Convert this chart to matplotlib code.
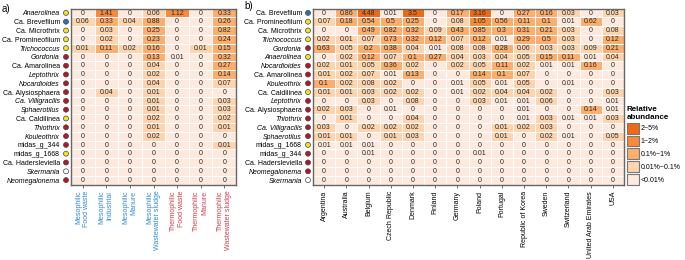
import numpy as np
import matplotlib
matplotlib.use("Agg")
import matplotlib.pyplot as plt
from matplotlib.colors import ListedColormap, BoundaryNorm
from matplotlib.patches import Patch

plt.rcParams['font.family'] = ['Liberation Sans', 'DejaVu Sans']

# DATA
# ----
rows_a = ["Anaerolinea", "Ca. Brevefilum", "Ca. Microthrix", "Ca. Promineofilum",
          "Trichococcus", "Gordonia", "Ca. Amarolinea", "Leptothrix", "Nocardioides",
          "Ca. Alysiosphaera", "Ca. Villigracilis", "Sphaerotilus", "Ca. Caldilinea",
          "Thiothrix", "Kouleothrix", "midas_g_344", "midas_g_1668",
          "Ca. Hadersleviella", "Skermania", "Neomegalonema"]
cols_a = ["Mesophilic\nFood waste", "Mesophilic\nIndustrial", "Mesophilic\nManure",
          "Mesophilic\nWastewater sludge", "Thermophilic\nFood waste",
          "Thermophilic\nManure", "Thermophilic\nWastewater sludge"]
vals_a = [
    [0, 1.41, 0, 0.06, 1.12, 0, 0.33],
    [0.06, 0.33, 0.04, 0.88, 0, 0, 0.26],
    [0, 0.03, 0, 0.25, 0, 0, 0.82],
    [0, 0.02, 0, 0.23, 0, 0, 0.24],
    [0.01, 0.11, 0.02, 0.16, 0, 0.01, 0.15],
    [0, 0, 0, 0.13, 0.008, 0, 0.32],
    [0, 0, 0, 0.04, 0, 0, 0.27],
    [0, 0, 0, 0.02, 0, 0, 0.14],
    [0, 0, 0, 0.04, 0, 0, 0.07],
    [0, 0.04, 0, 0.01, 0, 0, 0],
    [0, 0, 0, 0.01, 0, 0, 0.03],
    [0, 0, 0, 0.01, 0, 0, 0.03],
    [0, 0, 0, 0.02, 0, 0, 0.02],
    [0, 0, 0, 0.01, 0, 0, 0.01],
    [0, 0, 0, 0.02, 0, 0, 0],
    [0, 0, 0, 0, 0, 0, 0.01],
    [0, 0, 0, 0, 0, 0, 0],
    [0, 0, 0, 0, 0, 0, 0],
    [0, 0, 0, 0, 0, 0, 0],
    [0, 0, 0, 0, 0, 0, 0],
]

rows_b = ["Ca. Brevefilum", "Ca. Promineofilum", "Ca. Microthrix", "Trichococcus",
          "Gordonia", "Anaerolinea", "Nocardioides", "Ca. Amarolinea", "Kouleothrix",
          "Ca. Caldilinea", "Leptothrix", "Ca. Alysiosphaera", "Thiothrix",
          "Ca. Villigracilis", "Sphaerotilus", "midas_g_1668", "midas_g_344",
          "Ca. Hadersleviella", "Neomegalonema", "Skermania"]
cols_b = ["Argentina", "Australia", "Belgium", "Czech Republic", "Denmark", "Finland",
          "Germany", "Poland", "Portugal", "Republic of Korea", "Sweden", "Switzerland",
          "United Arab Emirates", "USA"]
vals_b = [
    [0, 0.86, 4.48, 0.008, 3.5, 0, 0.17, 3.16, 0, 0.27, 0.16, 0.03, 0, 0.03],
    [0.07, 0.18, 0.54, 0.5, 0.25, 0, 0.08, 1.05, 0.56, 0.11, 0.1, 0.008, 0.62, 0],
    [0, 0, 0.49, 0.82, 0.32, 0.09, 0.43, 0.85, 0.3, 0.31, 0.21, 0.03, 0, 0.08],
    [0.02, 0.01, 0.07, 0.73, 0.32, 0.12, 0.07, 0.12, 0.008, 0.29, 0.5, 0.03, 0, 0.12],
    [0.63, 0.05, 0.2, 0.38, 0.04, 0.008, 0.08, 0.08, 0.28, 0.06, 0.03, 0.03, 0.09, 0.21],
    [0, 0.02, 0.12, 0.07, 0.1, 0.27, 0.04, 0.03, 0.04, 0.05, 0.15, 0.11, 0.008, 0.04],
    [0.02, 0.01, 0.05, 0.36, 0.02, 0, 0.02, 0.05, 0.11, 0.02, 0.008, 0.008, 0.16, 0],
    [0.01, 0.02, 0.07, 0.008, 0.13, 0, 0, 0.14, 0.1, 0.07, 0, 0, 0, 0],
    [0.1, 0.02, 0.08, 0.02, 0, 0, 0.008, 0.05, 0.008, 0.05, 0, 0.008, 0, 0],
    [0.01, 0.01, 0.03, 0.02, 0.02, 0, 0.008, 0.02, 0.04, 0.04, 0.02, 0, 0, 0.03],
    [0, 0, 0.03, 0, 0.08, 0, 0, 0.03, 0.008, 0.008, 0.06, 0, 0, 0.008],
    [0.02, 0.03, 0, 0.008, 0, 0, 0, 0, 0, 0.008, 0, 0, 0.14, 0.008],
    [0, 0.01, 0, 0, 0.04, 0, 0, 0, 0, 0.008, 0.03, 0.008, 0.008, 0.03],
    [0.03, 0, 0.02, 0.02, 0.02, 0, 0, 0, 0.01, 0.02, 0.03, 0, 0, 0],
    [0.01, 0.01, 0, 0.01, 0.03, 0, 0, 0, 0.01, 0, 0.02, 0.008, 0, 0.05],
    [0.008, 0.008, 0.008, 0, 0, 0, 0, 0, 0, 0, 0, 0, 0, 0],
    [0, 0, 0.008, 0, 0, 0, 0, 0.008, 0, 0, 0, 0, 0, 0],
    [0, 0, 0, 0, 0, 0, 0, 0, 0, 0, 0, 0, 0, 0],
    [0, 0, 0, 0, 0, 0, 0, 0, 0, 0, 0, 0, 0, 0],
    [0, 0, 0, 0, 0, 0, 0, 0, 0, 0, 0, 0, 0, 0],
]

# genus group colour of the dot beside each name
yellow = ["Anaerolinea", "Ca. Microthrix", "Ca. Promineofilum", "Trichococcus",
          "Ca. Caldilinea", "midas_g_1668"]
blue = ["Ca. Brevefilum"]
white = ["Skermania"]
upright = ["Ca. Brevefilum", "Ca. Microthrix", "Ca. Promineofilum", "Ca. Amarolinea",
           "Ca. Alysiosphaera", "Ca. Caldilinea", "Ca. Hadersleviella",
           "midas_g_344", "midas_g_1668"]

bins = [0, 0.01, 0.1, 1, 2, 5]
bin_colors = ["#fde9dd", "#fdd4ad", "#fbae6d", "#f88b3b", "#ee6a14"]
legend_labels = ["2~5%", "1~2%", "0.1%~1%", "0.01%~0.1%", "<0.01%"]
cmap = ListedColormap(bin_colors)
norm = BoundaryNorm(bins, cmap.N)


def dot_color(name):
    if name in yellow:
        return "#f2e522"
    if name in blue:
        return "#2a6fbf"
    if name in white:
        return "#ffffff"
    return "#b0182a"


def fmt(v):
    s = "%.2f" % v
    return s.rstrip("0").rstrip(".")


def heat(ax, rows, cols, vals, width_px):
    data = np.array(vals, dtype=float)
    ax.pcolormesh(data, cmap=cmap, norm=norm, edgecolors="white", linewidth=0.7)
    ax.set_xlim(0, len(cols))
    ax.set_ylim(len(rows), 0)
    for i in range(len(rows)):
        for j in range(len(cols)):
            ax.text(j + 0.5, i + 0.52, fmt(data[i, j]), ha="center", va="center",
                    fontsize=5, color="#2b2b2b")
    ax.set_yticks(np.arange(len(rows)) + 0.5)
    ax.set_yticklabels(rows, fontsize=5)
    for lab, name in zip(ax.get_yticklabels(), rows):
        if name not in upright:
            lab.set_fontstyle("italic")
    ax.tick_params(axis="y", length=0, pad=8)
    ax.set_xticks(np.arange(len(cols)) + 0.5)
    ax.tick_params(axis="x", length=2.5, width=0.6, color="#555555", pad=2)
    # group dots beside row names
    ax.scatter(np.full(len(rows), -5.0 / width_px), np.arange(len(rows)) + 0.5,
               s=13, c=[dot_color(r) for r in rows], edgecolors="#444444",
               linewidths=0.5, transform=ax.get_yaxis_transform(), clip_on=False,
               zorder=5)
    for sp in ax.spines.values():
        sp.set_color("#666666")
        sp.set_linewidth(1.0)


fig = plt.figure(figsize=(6.85, 2.6), dpi=100)
W, H = 685.0, 260.0

# panel a
ax_a = fig.add_axes([71 / W, 1 - 184.5 / H, 165 / W, 176 / H])
heat(ax_a, rows_a, cols_a, vals_a, 165)
ax_a.set_xticklabels(cols_a, rotation=90, fontsize=5, va="top", ha="center",
                     multialignment="right")
for lab, name in zip(ax_a.get_xticklabels(), cols_a):
    lab.set_color("#2f8ad4" if name.startswith("Meso") else "#d23c4c")

# panel b
ax_b = fig.add_axes([313 / W, 1 - 184.5 / H, 311 / W, 176 / H])
heat(ax_b, rows_b, cols_b, vals_b, 311)
ax_b.set_xticklabels(cols_b, rotation=90, fontsize=5, va="top", ha="center")

fig.text(2 / W, 1 - 9 / H, "a)", fontsize=7, va="center", ha="left")
fig.text(244 / W, 1 - 6 / H, "b)", fontsize=7, va="center", ha="left")

# legend
handles = [Patch(facecolor=c, edgecolor="#777777", linewidth=0.8)
           for c in bin_colors[::-1]]
leg = fig.legend(handles, legend_labels, loc="upper left",
                 bbox_to_anchor=(626 / W, 1 - 105 / H), frameon=False,
                 title="Relative\nabundance", fontsize=5,
                 title_fontproperties={"weight": "bold", "size": 5.8},
                 handlelength=1.7, handleheight=2.0, handletextpad=0.3,
                 labelspacing=0.3, borderpad=0.1, borderaxespad=0,
                 alignment="left")

fig.savefig("out.png", dpi=100)
